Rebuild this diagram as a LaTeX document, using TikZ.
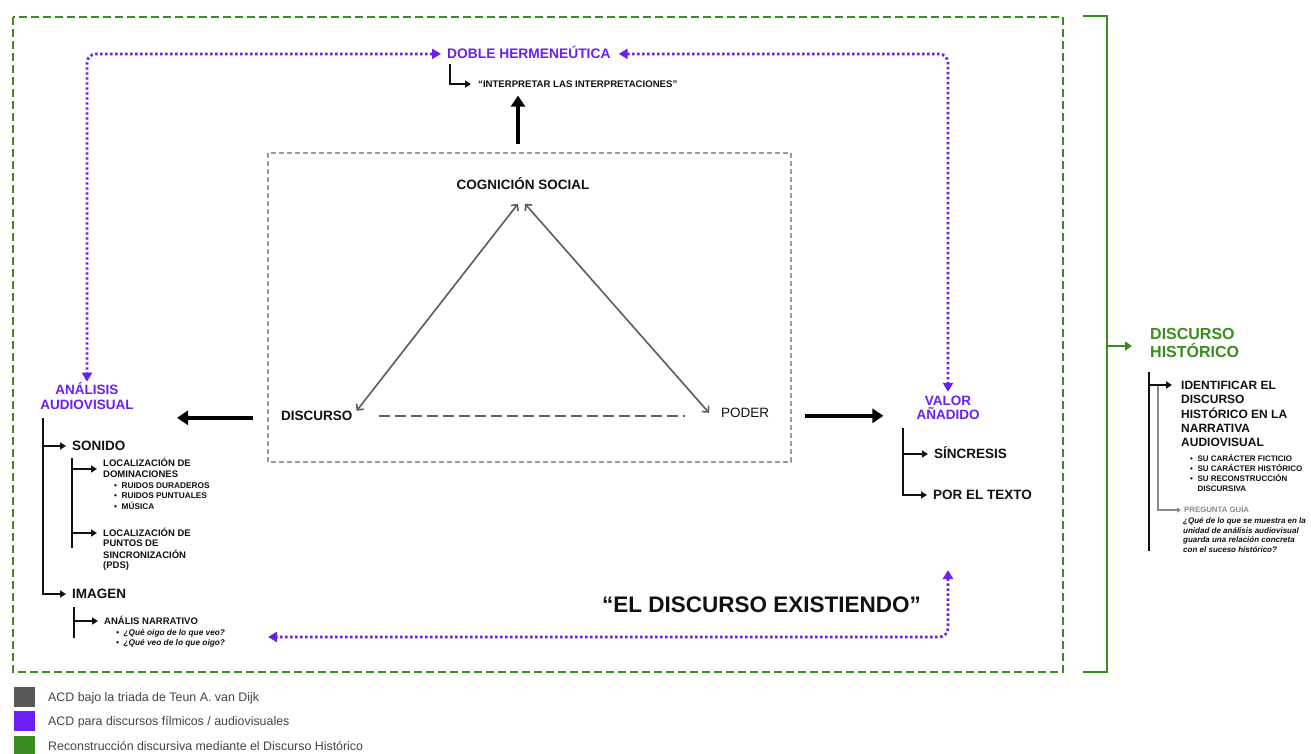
\documentclass[tikz,border=0pt]{standalone}
\usepackage{fontspec}
\setmainfont{Liberation Sans}
\usetikzlibrary{arrows.meta}
\definecolor{purp}{HTML}{6B1FF2}
\definecolor{grn}{HTML}{3B8C1E}
\definecolor{boxgray}{HTML}{9A9A9A}
\definecolor{trigray}{HTML}{5C5C5C}
\definecolor{leggray}{HTML}{575757}
\definecolor{txt}{HTML}{111111}
\definecolor{legtxt}{HTML}{444444}
\definecolor{guidegray}{HTML}{8A8A8A}
\newcommand{\fs}[2]{\fontsize{#1}{#2}\selectfont}
\newcommand{\mlines}[1]{\begin{tabular}[t]{@{}l@{}}#1\end{tabular}}
\newcommand{\clines}[1]{\begin{tabular}[t]{@{}c@{}}#1\end{tabular}}
\newcommand{\blines}[1]{\begin{tabular}[t]{@{}l@{\hspace{4.5pt}}l@{}}#1\end{tabular}}
\begin{document}
\begin{tikzpicture}[x=1pt,y=-1pt,
  lbl/.style={inner sep=0pt, anchor=base west, text=txt},
  clbl/.style={inner sep=0pt, anchor=base, text=txt},
  greendash/.style={grn, line width=2.4pt, dash pattern=on 8pt off 4pt},
  pdot/.style={purp, line width=2.7pt, dash pattern=on 2.4pt off 2.6pt, rounded corners=9pt},
  ptips/.style={{Triangle[length=9pt,width=10pt]}-{Triangle[length=9pt,width=10pt]}},
  bigarr/.style={black, line width=3.6pt, -{Triangle[length=11pt,width=14pt]}},
  treeline/.style={txt, line width=2.2pt},
  thinline/.style={txt, line width=1.6pt},
  treearr/.style={-{Triangle[length=6pt,width=7pt]}},
  tri/.style={trigray, line width=1.6pt, {Straight Barb[length=4.5pt,width=9pt]}-{Straight Barb[length=4.5pt,width=9pt]}},
]
\useasboundingbox (0,0) rectangle (1311,753);
\fill[white] (0,0) rectangle (1311,753);

% outer frame and bracket
\draw[greendash] (13,17) rectangle (1063,672);
\draw[grn, line width=2.3pt] (1083,16) -- (1107,16) -- (1107,672) -- (1083,672);

% central dashed box
\draw[boxgray, line width=1.5pt, dash pattern=on 5pt off 3pt] (268,153) rectangle (791,462);

% triad
\node[clbl, font=\fs{13.5}{15}\bfseries] (cog) at (523,189.8) {COGNICIÓN SOCIAL};
\node[lbl, font=\fs{13.5}{15}\bfseries] (disc) at (281,420.8) {DISCURSO};
\node[lbl, font=\fs{13.5}{15}] (poder) at (721,417.8) {PODER};
\draw[tri] ([shift={(4,-10)}]disc.base east) -- ([shift={(-5,14)}]cog.base);
\draw[tri] ([shift={(-12,-5)}]poder.base west) -- ([shift={(2,14)}]cog.base);
\draw[trigray, line width=2pt, dash pattern=on 11pt off 5pt] ([shift={(26,-5)}]disc.base east) -- ([shift={(-36,-2)}]poder.base west);

% doble hermeneutica
\node[lbl, font=\fs{13.8}{15}\bfseries, text=purp] (dh) at (447,58.9) {DOBLE HERMENEÚTICA};
\node[lbl, font=\fs{9.6}{11}\bfseries] (interp) at (478,87.5) {“INTERPRETAR LAS INTERPRETACIONES”};
\draw[thinline, treearr] ([shift={(3,5)}]dh.base west) |- ([shift={(-7,-3.4)}]interp.base west);
\draw[bigarr] ([shift={(-5,-34)}]cog.north) -- ([shift={(-5,-82)}]cog.north);

% analisis audiovisual
\node[clbl, font=\fs{13.5}{15}\bfseries, text=purp] (aav) at (87,394.8) {\clines{ANÁLISIS\\AUDIOVISUAL}};
\draw[bigarr] ([shift={(-28,-3)}]disc.base west) -- ([shift={(-104,-3)}]disc.base west);

\node[lbl, font=\fs{13.5}{15}\bfseries] (sonido) at (72,450.8) {SONIDO};
\node[lbl, font=\fs{13.5}{15}\bfseries] (imagen) at (72,598.8) {IMAGEN};
\coordinate (aroot) at (43,418);
\coordinate (sonarr) at ([shift={(-6,-4.8)}]sonido.base west);
\draw[treeline, treearr] (aroot) |- ([shift={(-6,-4.8)}]imagen.base west);
\draw[treeline, treearr] (aroot |- sonarr) -- (sonarr);

\node[lbl, font=\fs{9.5}{11}\bfseries] (loc1) at (103,466.4) {\mlines{LOCALIZACIÓN DE\\DOMINACIONES}};
\node[lbl, font=\fs{8.3}{10}\bfseries] (ruidos) at (114,488.9) {\blines{•&RUIDOS DURADEROS\\•&RUIDOS PUNTUALES\\•&MÚSICA}};
\node[lbl, font=\fs{9.5}{10.4}\bfseries] (loc2) at (103,536.4) {\mlines{LOCALIZACIÓN DE\\PUNTOS DE\\SINCRONIZACIÓN\\(PDS)}};
\coordinate (sroot) at (72,458);
\coordinate (sbot) at (72,548);
\coordinate (loc1arr) at ([shift={(-6,2.6)}]loc1.base west);
\coordinate (loc2arr) at ([shift={(-6,-3.4)}]loc2.base west);
\draw[thinline] (sroot) -- (sbot);
\draw[thinline, treearr] (sroot |- loc1arr) -- (loc1arr);
\draw[thinline, treearr] (sroot |- loc2arr) -- (loc2arr);

\node[lbl, font=\fs{9.5}{11}\bfseries] (narr) at (104,624.4) {ANÁLIS NARRATIVO};
\node[lbl, font=\fs{8.3}{10}\bfseries\itshape] (qs) at (116,635.9) {\blines{•&¿Qué oigo de lo que veo?\\•&¿Qué veo de lo que oigo?}};
\coordinate (iroot) at (74,607);
\coordinate (ibot) at (74,638);
\coordinate (narrarr) at ([shift={(-6,-3.4)}]narr.base west);
\draw[thinline] (iroot) -- (ibot);
\draw[thinline, treearr] (iroot |- narrarr) -- (narrarr);

% valor anadido
\node[clbl, font=\fs{13.5}{13.6}\bfseries, text=purp] (valor) at (948,405.8) {\clines{VALOR\\\smash{AÑADIDO}}};
\draw[bigarr] ([shift={(36,-2)}]poder.base east) -- ([shift={(114,-2)}]poder.base east);
\node[lbl, font=\fs{13.5}{15}\bfseries] (sinc) at (934,458.8) {SÍNCRESIS};
\node[lbl, font=\fs{13.5}{15}\bfseries] (portexto) at (933,499.8) {POR EL TEXTO};
\coordinate (vroot) at (903,428);
\coordinate (sincarr) at ([shift={(-6,-4.8)}]sinc.base west);
\draw[treeline, treearr] (vroot) |- ([shift={(-6,-4.8)}]portexto.base west);
\draw[treeline, treearr] (vroot |- sincarr) -- (sincarr);

% purple dotted connectors
\draw[pdot, ptips] ([shift={(-6,-5)}]dh.base west) -| ([shift={(0,-1)}]aav.north);
\draw[pdot, ptips] ([shift={(8,-5)}]dh.base east) -| ([shift={(0,-14)}]valor.base);
\node[lbl, font=\fs{22.5}{25}\bfseries] (exist) at (602,612) {“EL DISCURSO EXISTIENDO”};
\coordinate (exTop) at (948,570);
\coordinate (exLeft) at (268,637);
\draw[pdot, ptips] (exTop) |- (exLeft);

% discurso historico
\node[lbl, font=\fs{16}{18}\bfseries, text=grn] (dhist) at (1150,339.7) {\mlines{DISCURSO\\\smash{HISTÓRICO}}};
\coordinate (brk) at (1107,346);
\coordinate (dharr) at ([xshift=-18]dhist.west);
\draw[grn, line width=2.3pt, -{Triangle[length=7pt,width=9pt]}] (brk) -- (brk -| dharr);
\node[lbl, font=\fs{12}{14}\bfseries] (ident) at (1181,389.3) {\mlines{IDENTIFICAR EL\\DISCURSO\\HISTÓRICO EN LA\\NARRATIVA\\AUDIOVISUAL}};
\node[lbl, font=\fs{8}{9.7}\bfseries] (sus) at (1190,461.9) {\blines{•&SU CARÁCTER FICTICIO\\•&SU CARÁCTER HISTÓRICO\\•&SU RECONSTRUCCIÓN\\&DISCURSIVA}};
\node[lbl, font=\fs{7.8}{9}\bfseries, text=guidegray] (preg) at (1184,512.8) {PREGUNTA GUÍA};
\node[lbl, font=\fs{8}{9.4}\bfseries\itshape] (quest) at (1183,523.9) {\mlines{¿Qué de lo que se muestra en la\\unidad de análisis audiovisual\\guarda una relación concreta\\con el suceso histórico?}};
\coordinate (hroot) at (1149,372);
\coordinate (hbot) at (1149,551);
\coordinate (identarr) at ([shift={(-9,-4.3)}]ident.base west);
\draw[treeline] (hroot) -- (hbot);
\draw[treeline, treearr] (hroot |- identarr) -- (identarr);
\coordinate (groot) at (1158,386);
\draw[guidegray, line width=1.3pt, -{Triangle[length=4pt,width=5pt]}] (groot) |- ([shift={(-3,-2.8)}]preg.base west);

% legend
\fill[leggray] (14,687) rectangle (35,707);
\fill[purp] (14,711) rectangle (35,731);
\fill[grn] (14,736) rectangle (35,756);
\node[lbl, font=\fs{12.4}{14}, text=legtxt] (l1) at (48,701.5) {ACD bajo la triada de Teun A. van Dijk};
\node[lbl, font=\fs{12.4}{14}, text=legtxt] (l2) at (48,725.5) {ACD para discursos fílmicos / audiovisuales};
\node[lbl, font=\fs{12.4}{14}, text=legtxt] (l3) at (48,750.5) {Reconstrucción discursiva mediante el Discurso Histórico};
\end{tikzpicture}
\end{document}
